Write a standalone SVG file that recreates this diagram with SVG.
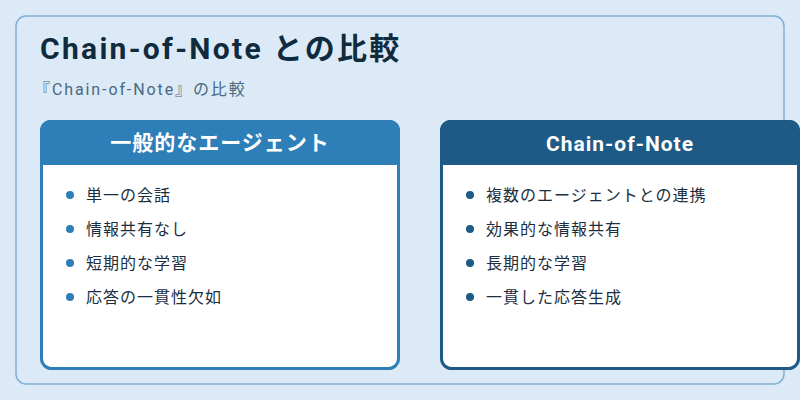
<svg xmlns="http://www.w3.org/2000/svg" width="800" height="400" viewBox="0 0 800 400">
<style>
text{font-family:Roboto,"Noto Sans CJK JP",sans-serif}
.it{font-size:16px;fill:#1a2e40;letter-spacing:1px}
.hd{font-size:21px;font-weight:bold;fill:#fff;letter-spacing:1px}
</style>
<rect width="800" height="400" fill="#dbeaf6"/>
<rect x="16" y="16" width="768" height="368" rx="10" fill="#dbeaf6" stroke="#7fb0d6" stroke-width="1.5"/>
<text x="40" y="59" font-size="30" font-weight="bold" fill="#102a3e" letter-spacing="2.3">Chain-of-Note との比較</text>
<text x="34" y="95" font-size="16" fill="#4a6880" letter-spacing="1.9">『Chain-of-Note』の比較</text>
<g id="left">
<rect x="41.5" y="121.5" width="357" height="247" rx="10" fill="#fff" stroke="#2e7fb8" stroke-width="3"/>
<path d="M40 165V130a10 10 0 0 1 10-10h340a10 10 0 0 1 10 10v35z" fill="#2e7fb8"/>
<text class="hd" x="220" y="150" text-anchor="middle">一般的なエージェント</text>
<g fill="#2e7fb8"><circle cx="70" cy="195" r="4"/><circle cx="70" cy="229" r="4"/><circle cx="70" cy="263" r="4"/><circle cx="70" cy="297" r="4"/></g>
<text class="it" x="86" y="201">単一の会話</text>
<text class="it" x="86" y="235">情報共有なし</text>
<text class="it" x="86" y="269">短期的な学習</text>
<text class="it" x="86" y="303">応答の一貫性欠如</text>
</g>
<g id="right">
<rect x="441.5" y="121.5" width="357" height="247" rx="10" fill="#fff" stroke="#1d5a85" stroke-width="3"/>
<path d="M440 165V130a10 10 0 0 1 10-10h340a10 10 0 0 1 10 10v35z" fill="#1d5a85"/>
<text class="hd" x="620" y="151" text-anchor="middle">Chain-of-Note</text>
<g fill="#1d5a85"><circle cx="470" cy="195" r="4"/><circle cx="470" cy="229" r="4"/><circle cx="470" cy="263" r="4"/><circle cx="470" cy="297" r="4"/></g>
<text class="it" x="486" y="201">複数のエージェントとの連携</text>
<text class="it" x="486" y="235">効果的な情報共有</text>
<text class="it" x="486" y="269">長期的な学習</text>
<text class="it" x="486" y="303">一貫した応答生成</text>
</g>
<g id="connectors"/>
</svg>
